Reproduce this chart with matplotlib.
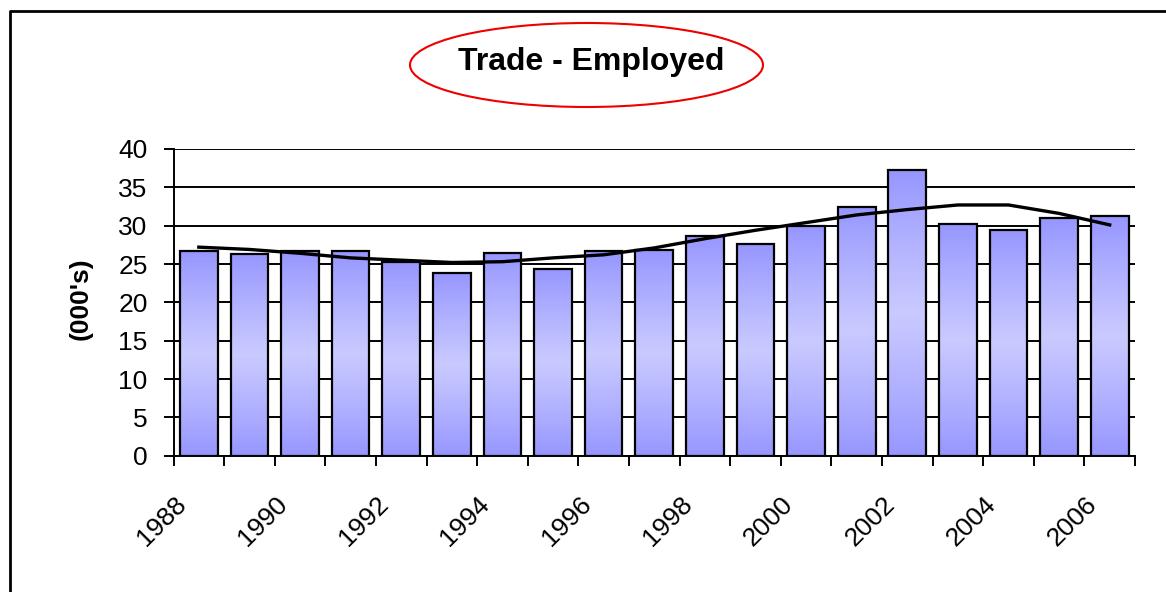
import numpy as np
import matplotlib
matplotlib.use("Agg")
import matplotlib.pyplot as plt
from matplotlib.patches import Ellipse
from matplotlib.lines import Line2D
from matplotlib.transforms import ScaledTranslation

years = list(range(1988, 2007))
employed = [26.7, 26.3, 26.7, 26.7, 25.2, 23.8, 26.4, 24.4, 26.7, 26.8,
            28.7, 27.6, 29.9, 32.5, 37.3, 30.2, 29.4, 31.0, 31.3]
# trendline, one value per year
trend = [27.2, 26.9, 26.4, 25.8, 25.5, 25.2, 25.3, 25.8, 26.2, 27.1,
         28.3, 29.4, 30.4, 31.4, 32.1, 32.7, 32.7, 31.6, 30.1]
tick_years = years[::2]
yticks = list(range(0, 45, 5))

plt.rcParams["font.family"] = ["Liberation Sans", "DejaVu Sans"]

W, H = 1166, 592
fig = plt.figure(figsize=(W / 100, H / 100), dpi=100)
ax = fig.add_axes([173.5 / W, 1 - 455.7 / H, (1135 - 173.5) / W, (455.7 - 149) / H])

x = np.arange(len(years))
bw = 0.745

# gradient for each bar: dark at top and bottom, light in the middle
dark = np.array([150, 150, 255]) / 255
light = np.array([202, 202, 255]) / 255
t = np.linspace(0, 1, 64)
w = np.clip(1 - np.abs(t - 0.5) * 2, 0, 1) ** 0.9
grad = dark[None, :] * (1 - w[:, None]) + light[None, :] * w[:, None]
grad = grad[:, None, :]

bars = ax.bar(x, employed, width=bw, facecolor="none", edgecolor="black",
              linewidth=1.6, zorder=3)
for b in bars:
    x0 = b.get_x()
    ax.imshow(grad, extent=[x0, x0 + b.get_width(), 0, b.get_height()],
              aspect="auto", interpolation="bilinear", zorder=2)

ax.plot(x, trend, color="black", lw=2.4, zorder=4)

ax.set_xlim(-0.5, len(years) - 0.5)
ax.set_ylim(0, 40)
ax.set_yticks(yticks)
ax.yaxis.grid(True, color="black", lw=1.4, zorder=1)
ax.set_axisbelow(True)

ax.set_xticks(x[::2])
ax.set_xticklabels([str(y) for y in tick_years], rotation=45, ha="right", va="top")
ax.set_xticks(np.arange(-0.5, len(years)), minor=True)
ax.tick_params(axis="x", which="major", length=0, pad=26, labelsize=19)
ax.tick_params(axis="x", which="minor", length=7, width=1.4, direction="out")
ax.tick_params(axis="y", length=7.2, width=1.4, pad=11.5, labelsize=19)
for lab in ax.get_xticklabels():
    lab.set_transform(lab.get_transform() + ScaledTranslation(-0.08, 0, fig.dpi_scale_trans))

for s in ("top", "right"):
    ax.spines[s].set_visible(False)
for s in ("left", "bottom"):
    ax.spines[s].set_linewidth(1.4)
    ax.spines[s].set_color("black")

fig.text(81 / W, 1 - 299 / H, "(000's)", rotation=90, ha="center", va="center",
         fontsize=19, fontweight="bold")

fig.text(591.5 / W, 1 - 62 / H, "Trade - Employed", ha="center", va="center",
         fontsize=23, fontweight="bold")
fig.patches.append(Ellipse((586.5 / W, 1 - 65 / H), 353 / W, 84 / H,
                           transform=fig.transFigure, fill=False,
                           edgecolor="#ee0000", lw=1.5))

# outer chart frame, cut off on the right and bottom
fig.lines.append(Line2D([10 / W, 10 / W, 1.01], [-0.01, 1 - 11 / H, 1 - 11 / H],
                        transform=fig.transFigure, color="black", lw=2))

fig.savefig("out.png", dpi=100)
